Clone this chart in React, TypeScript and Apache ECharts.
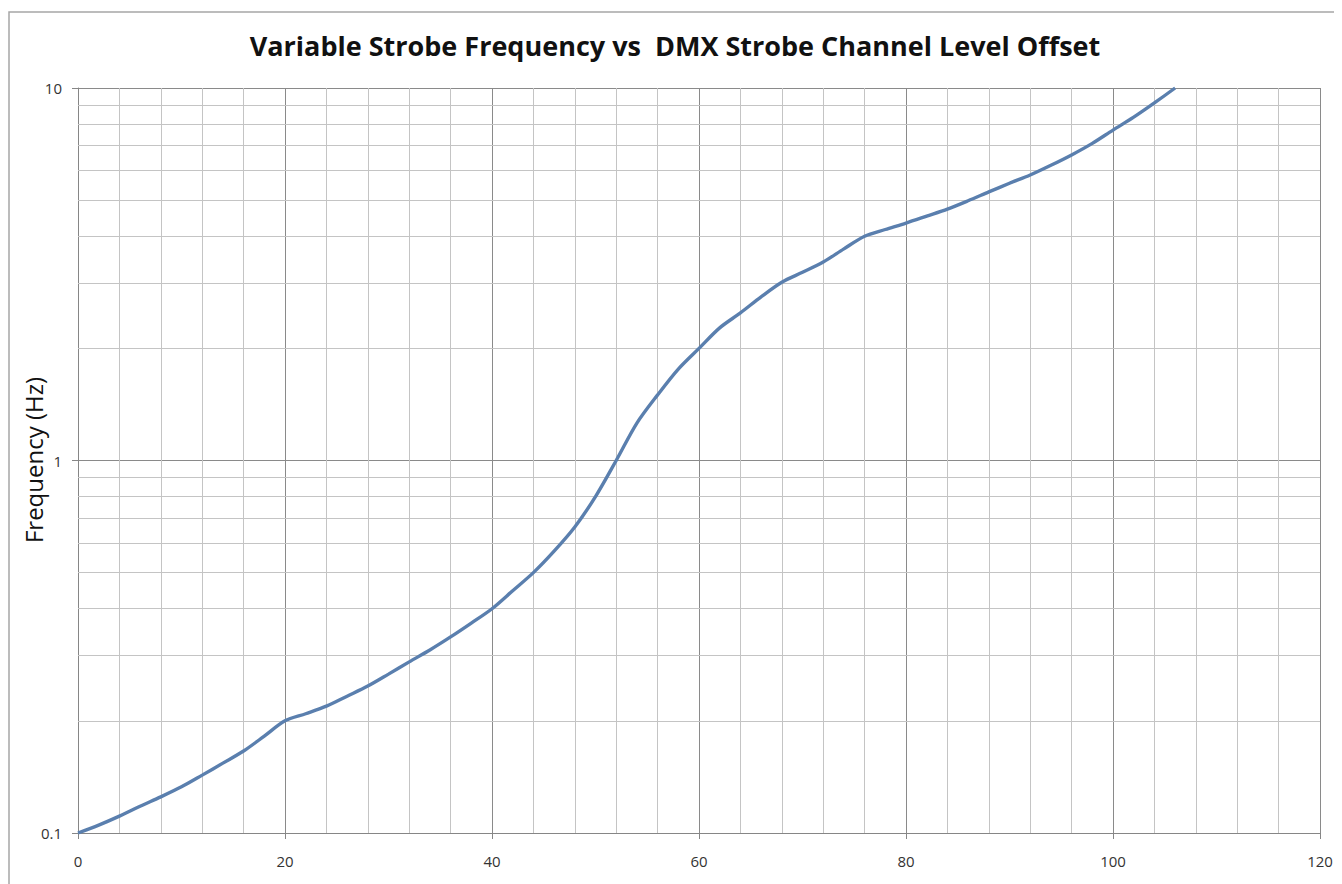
import React, { useEffect, useRef } from "react";
import * as echarts from "echarts";

const xValues = [0, 2, 4, 6, 8, 10, 12, 14, 16, 18, 20, 22, 24, 26, 28, 30, 32, 34, 36, 38, 40, 42, 44, 46, 48, 50, 52, 54, 56, 58, 60, 62, 64, 66, 68, 70, 72, 74, 76, 78, 80, 82, 84, 86, 88, 90, 92, 94, 96, 98, 100, 102, 104, 106];
const freqValues = [0.1, 0.105, 0.111, 0.118, 0.125, 0.133, 0.143, 0.154, 0.166, 0.182, 0.2, 0.209, 0.219, 0.233, 0.248, 0.267, 0.288, 0.31, 0.336, 0.366, 0.4, 0.447, 0.5, 0.571, 0.663, 0.8, 1.0, 1.26, 1.5, 1.76, 2.0, 2.27, 2.49, 2.75, 3.01, 3.2, 3.41, 3.7, 4.0, 4.17, 4.34, 4.53, 4.73, 4.98, 5.26, 5.55, 5.84, 6.2, 6.61, 7.1, 7.71, 8.35, 9.12, 10];
const minorYLines = [0.2, 0.3, 0.4, 0.5, 0.6, 0.7, 0.8, 0.9, 2, 3, 4, 5, 6, 7, 8, 9];

const titleText = "Variable Strobe Frequency vs  DMX Strobe Channel Level Offset";
const yAxisName = "Frequency (Hz)";

export default function App() {
  const ref = useRef<HTMLDivElement>(null);
  useEffect(() => {
    if (!ref.current) return;
    const chart = echarts.init(ref.current, null, { renderer: "svg" });
    chart.setOption({
      animation: false,
      backgroundColor: "#ffffff",
      title: {
        text: titleText,
        left: "center",
        top: 19,
        textStyle: { fontFamily: "Open Sans", fontWeight: "bold", fontSize: 27, color: "#111" },
      },
      graphic: [
        {
          type: "rect",
          shape: { x: 1, y: 4, width: 1400, height: 1000 },
          style: { fill: "none", stroke: "#a6a6a6", lineWidth: 1.5 },
          z: -1,
        },
        {
          type: "text",
          x: 25,
          y: 452,
          rotation: Math.PI / 2,
          style: {
            text: yAxisName,
            fontFamily: "Open Sans",
            fontSize: 24,
            fill: "#111",
            textAlign: "center",
            textVerticalAlign: "middle",
          },
        },
      ],
      grid: { left: 70, top: 80, right: 22, bottom: 51, outerBoundsMode: "none", containLabel: false },
      xAxis: {
        type: "value",
        min: 0,
        max: 120,
        interval: 20,
        axisLine: { show: true, lineStyle: { color: "#868686", width: 1 } },
        axisTick: { show: true, length: 6, lineStyle: { color: "#868686" } },
        axisLabel: { fontFamily: "Open Sans", fontSize: 15, color: "#333", margin: 20 },
        splitLine: { show: true, lineStyle: { color: "#8a8a8a", width: 1 } },
        minorTick: { show: false, splitNumber: 5 },
        minorSplitLine: { show: true, lineStyle: { color: "#c4c4c4", width: 1 } },
      },
      yAxis: {
        type: "log",
        logBase: 10,
        min: 0.1,
        max: 10,
        axisLine: { show: true, lineStyle: { color: "#868686", width: 1 } },
        axisTick: { show: true, length: 6, lineStyle: { color: "#868686" } },
        axisLabel: { fontFamily: "Open Sans", fontSize: 15, color: "#333", margin: 16 },
        splitLine: { show: true, lineStyle: { color: "#8a8a8a", width: 1 } },
      },
      series: [
        {
          type: "line",
          data: xValues.map((x, i) => [x, freqValues[i]]),
          showSymbol: false,
          smooth: 0.3,
          lineStyle: { color: "#5a7fae", width: 3.4 },
          z: 5,
          markLine: {
            silent: true,
            symbol: ["none", "none"],
            label: { show: false },
            lineStyle: { color: "#c4c4c4", width: 1, type: "solid" },
            data: minorYLines.map((v) => ({ yAxis: v })),
            z: 1,
          },
        },
      ],
    });
    return () => chart.dispose();
  }, []);
  return <div ref={ref} style={{ width: 1334, height: 876 }} />;
}
